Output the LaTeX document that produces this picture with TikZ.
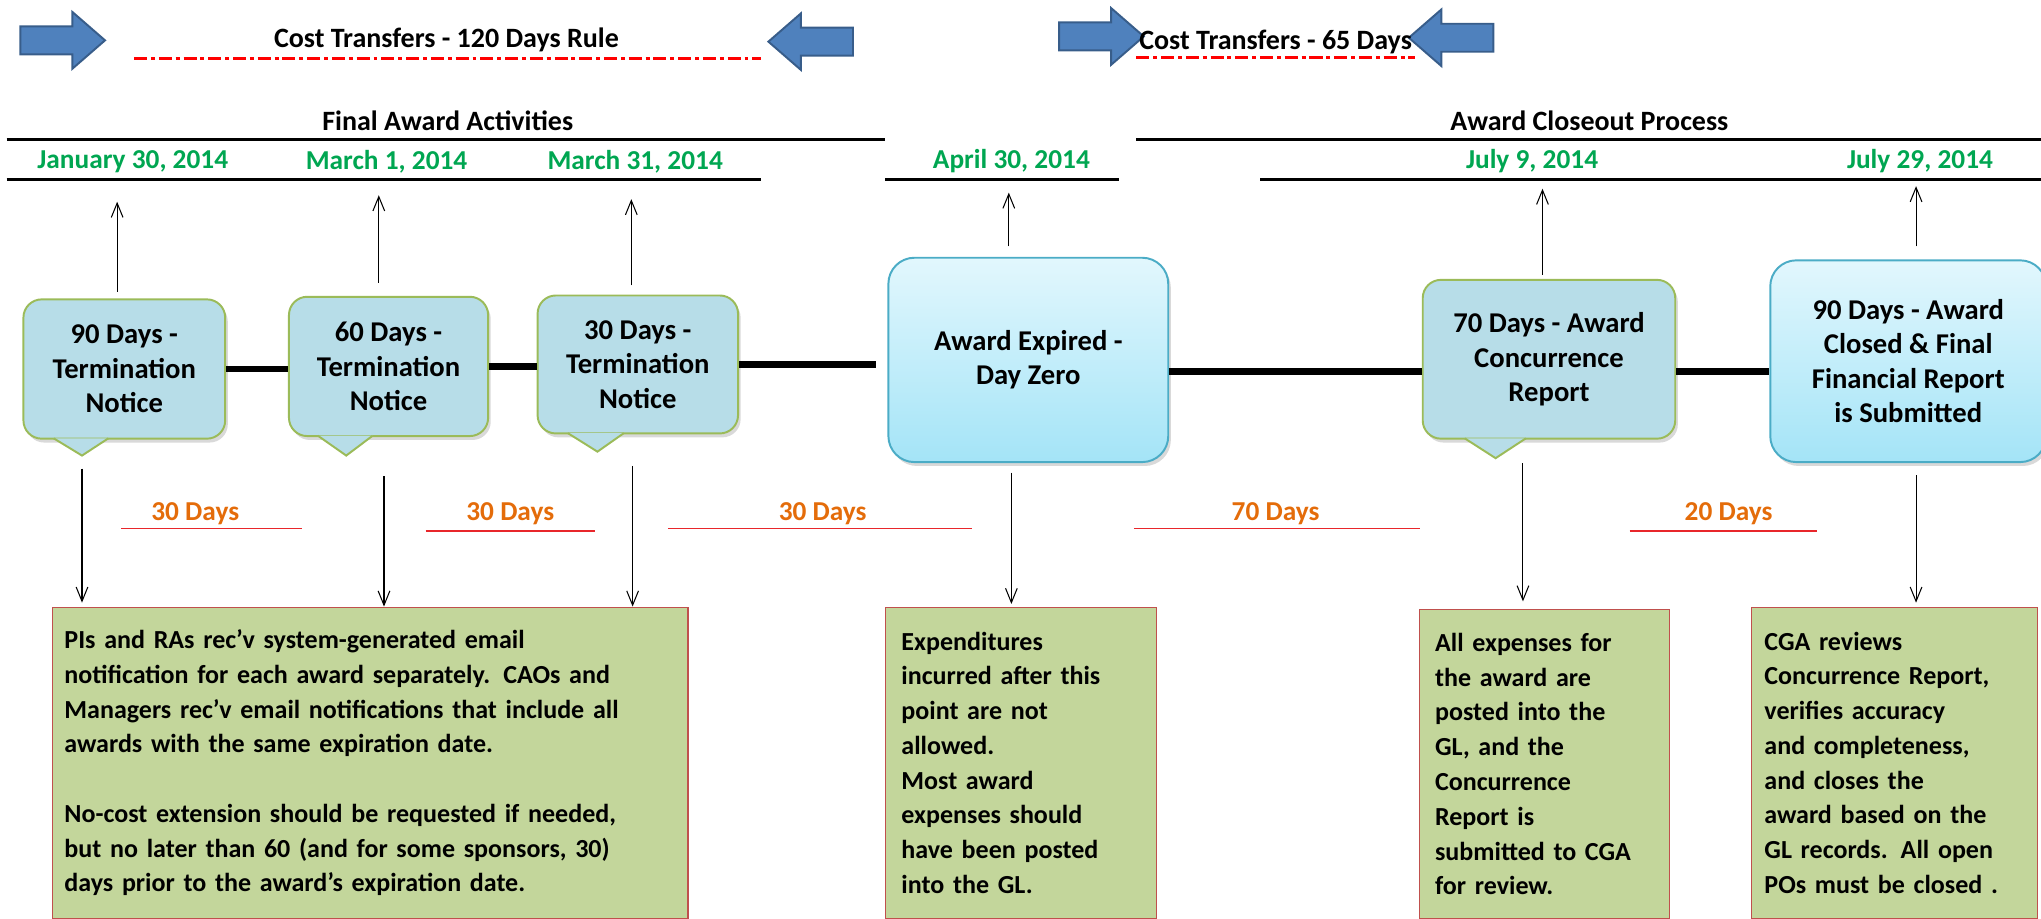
\documentclass[tikz,border=0pt]{standalone}
\usepackage{fontspec}
\setmainfont{Carlito}
\usetikzlibrary{calc,arrows.meta,shapes.arrows,shadows}

\definecolor{calloutfill}{HTML}{B7DDE8}
\definecolor{calloutline}{HTML}{9BBB59}
\definecolor{daytop}{HTML}{E2F7FD}
\definecolor{daybot}{HTML}{A4E4F7}
\definecolor{dayline}{HTML}{4BACC6}
\definecolor{notefill}{HTML}{C3D69B}
\definecolor{noteline}{HTML}{C0504D}
\definecolor{datecol}{HTML}{00A651}
\definecolor{dayscol}{HTML}{E46C0A}
\definecolor{arrowfill}{HTML}{4F81BD}
\definecolor{arrowline}{HTML}{385D8A}
\definecolor{underred}{HTML}{E8262B}

\begin{document}
\begin{tikzpicture}[x=1pt,y=-1pt,
  calloutbox/.style={rectangle, rounded corners=14pt, draw=calloutline, fill=calloutfill, line width=1.5pt, align=center, inner sep=0pt, font=\fontsize{22}{26.5}\selectfont\bfseries, drop shadow={shadow xshift=2pt,shadow yshift=-3pt,opacity=0.3}},
  pointerbox/.style={draw=calloutline, fill=calloutfill, line width=1.5pt, line join=miter},
  daybox/.style={rectangle, rounded corners=20pt, draw=dayline, top color=daytop, bottom color=daybot, line width=1.5pt, align=center, inner sep=0pt, font=\fontsize{22}{26.5}\selectfont\bfseries, drop shadow={shadow xshift=2pt,shadow yshift=-3pt,opacity=0.3}},
  notebox/.style={rectangle, anchor=north west, draw=noteline, fill=notefill, line width=1pt, align=left, font=\fontsize{20}{26.7}\selectfont\bfseries},
  datelabel/.style={text=datecol, font=\fontsize{21}{25}\selectfont\bfseries},
  dayslabel/.style={text=dayscol, font=\fontsize{21}{25}\selectfont\bfseries},
  headlabel/.style={font=\fontsize{21.5}{25}\selectfont\bfseries},
  bluearrow/.style={single arrow, draw=arrowline, fill=arrowfill, line width=1.5pt, minimum height=65pt, inner xsep=0pt, inner ysep=10pt, single arrow head extend=11pt, single arrow tip angle=82},
  rulerline/.style={line width=2.5pt},
  timeline/.style={line width=5pt},
  conn/.style={-{Straight Barb[length=11pt,width=9pt]}, line width=0.8pt},
  redline/.style={draw=underred, line width=1.5pt},
  dashred/.style={draw=red, line width=2.5pt, dash pattern=on 10pt off 3pt on 3pt off 3pt}
]
\useasboundingbox (0,0) rectangle (1568,706);

% cost transfer banners
\node[bluearrow] at (42,31) (ar1) {};
\node[bluearrow, shape border rotate=180] at (629,32) (ar2) {};
\node[bluearrow] at (840,28) (ar3) {};
\node[bluearrow, shape border rotate=180] at (1121,29) (ar4) {};
\node[headlabel] at (343,31) (ct1) {Cost Transfers - 120 Days Rule};
\node[headlabel] at (980,32) (ct2) {Cost Transfers - 65 Days};
\draw[dashred] (103,45) -- (585,45);
\draw[dashred] (873,44) -- (1087,44);

% headings and dates
\node[headlabel] at (344,93) (faa) {Final Award Activities};
\node[headlabel] at (1221,93) (acp) {Award Closeout Process};
\draw[rulerline] (5,107) -- (680,107);
\draw[rulerline] (873,107) -- (1568,107);
\draw[rulerline] (5,138) -- (585,138);
\draw[rulerline] (680,138) -- (860,138);
\draw[rulerline] (968,138) -- (1568,138);

\node[datelabel] at (102,124) (d1) {January 30, 2014};
\node[datelabel] at (297,124) (d2) {March 1, 2014};
\node[datelabel] at (488,124) (d3) {March 31, 2014};
\node[datelabel] at (777,124) (d4) {April 30, 2014};
\node[datelabel] at (1177,124) (d5) {July 9, 2014};
\node[datelabel] at (1475,124) (d6) {July 29, 2014};

% timeline boxes
\node[calloutbox, minimum width=155pt, minimum height=107pt] at (95.5,283.5) (cb1) {90 Days -\\Termination\\Notice};
\node[calloutbox, minimum width=153pt, minimum height=107pt] at (298.5,281.5) (cb2) {60 Days -\\Termination\\Notice};
\node[calloutbox, minimum width=154pt, minimum height=106pt] at (490,280) (cb3) {30 Days -\\Termination\\Notice};
\node[daybox, minimum width=215pt, minimum height=157pt] at (790,276.5) (ex) {Award Expired -\\Day Zero};
\node[calloutbox, minimum width=194pt, minimum height=122pt] at (1190,276) (cb5) {70 Days - Award\\Concurrence\\Report};
\node[daybox, minimum width=212pt, minimum height=155pt] at (1466,277.5) (cl) {90 Days - Award\\Closed \& Final\\Financial Report\\is Submitted};

\coordinate (p1) at (63,350);
\coordinate (p2) at (266,350);
\coordinate (p3) at (459,347);
\coordinate (p5) at (1149,352);
\filldraw[pointerbox] ($(cb1.south west)+(24,-1)$) -- (p1) -- ($(cb1.south west)+(66,-1)$);
\filldraw[pointerbox] ($(cb2.south west)+(23,-1)$) -- (p2) -- ($(cb2.south west)+(65,-1)$);
\filldraw[pointerbox] ($(cb3.south west)+(24,-1)$) -- (p3) -- ($(cb3.south west)+(67,-1)$);
\filldraw[pointerbox] ($(cb5.south west)+(33,-1)$) -- (p5) -- ($(cb5.south west)+(80,-1)$);

\draw[timeline] (cb1.east) -- (cb1.east -| cb2.west);
\draw[timeline] (cb2.east) -- (cb2.east -| cb3.west);
\draw[timeline, shorten >=9pt] (cb3.east) -- (cb3.east -| ex.west);
\draw[timeline] ([yshift=-9pt]ex.east) -- ([yshift=-9pt]ex.east -| cb5.west);
\draw[timeline] ([yshift=-9pt]ex.east -| cb5.east) -- ([yshift=-9pt]ex.east -| cl.west);

% up to the dates
\coordinate (u1) at (90,155);
\coordinate (u2) at (291,150);
\coordinate (u3) at (485,153);
\coordinate (u4) at (775,148);
\coordinate (u5) at (1185,145);
\coordinate (u6) at (1472,143);
\draw[conn, shorten <=5pt] (cb1.north -| u1) -- (u1);
\draw[conn, shorten <=10pt] (cb2.north -| u2) -- (u2);
\draw[conn, shorten <=7pt] (cb3.north -| u3) -- (u3);
\draw[conn, shorten <=8pt] (ex.north -| u4) -- (u4);
\draw[conn, shorten <=3pt] (cb5.north -| u5) -- (u5);
\draw[conn, shorten <=10pt] (cl.north -| u6) -- (u6);

% spans between dates
\node[dayslabel] at (150,395) (g1) {30 Days};
\node[dayslabel] at (392,395) (g2) {30 Days};
\node[dayslabel] at (632,395) (g3) {30 Days};
\node[dayslabel] at (980,395) (g4) {70 Days};
\node[dayslabel] at (1328,395) (g5) {20 Days};
\draw[redline] (93,406) -- (232,406);
\draw[redline] (327,408) -- (457,408);
\draw[redline] (513,406) -- (747,406);
\draw[redline] (871,406) -- (1091,406);
\draw[redline] (1252,408) -- (1396,408);

% notes
\node[notebox, inner xsep=9pt, text width=470pt, minimum height=239pt] at (40,466) (n1) {PIs and RAs rec'v system-generated email\\notification for each award separately. CAOs and\\Managers rec'v email notifications that include all\\awards with the same expiration date.\\[26.7pt]No-cost extension should be requested if needed,\\but no later than 60 (and for some sponsors, 30)\\days prior to the award's expiration date.};
\node[notebox, inner xsep=12pt, text width=184pt, minimum height=239pt] at (680,466) (n2) {Expenditures\\incurred after this\\point are not\\allowed.\\Most award\\expenses should\\have been posted\\into the GL.};
\node[notebox, inner xsep=12pt, text width=168pt, minimum height=237pt] at (1090,468) (n3) {All expenses for\\the award are\\posted into the\\GL, and the\\Concurrence\\Report is\\submitted to CGA\\for review.};
\node[notebox, inner xsep=10pt, text width=200pt, minimum height=239pt] at (1345,466) (n4) {CGA reviews\\Concurrence Report,\\verifies accuracy\\and completeness,\\and closes the\\award based on the\\GL records. All open\\POs must be closed .};

\coordinate (s1) at (63,360);
\coordinate (s2) at (295,366);
\coordinate (s3) at (486,358);
\coordinate (s4) at (777,363);
\coordinate (s5) at (1170,356);
\coordinate (s6) at (1472,365);
\draw[conn, shorten >=3pt] (s1) -- (s1 |- n1.north);
\draw[conn] (s2) -- (s2 |- n1.north);
\draw[conn] (s3) -- (s3 |- n1.north);
\draw[conn, shorten >=2pt] (s4) -- (s4 |- n2.north);
\draw[conn, shorten >=6pt] (s5) -- (s5 |- n3.north);
\draw[conn, shorten >=3pt] (s6) -- (s6 |- n4.north);

\end{tikzpicture}
\end{document}
